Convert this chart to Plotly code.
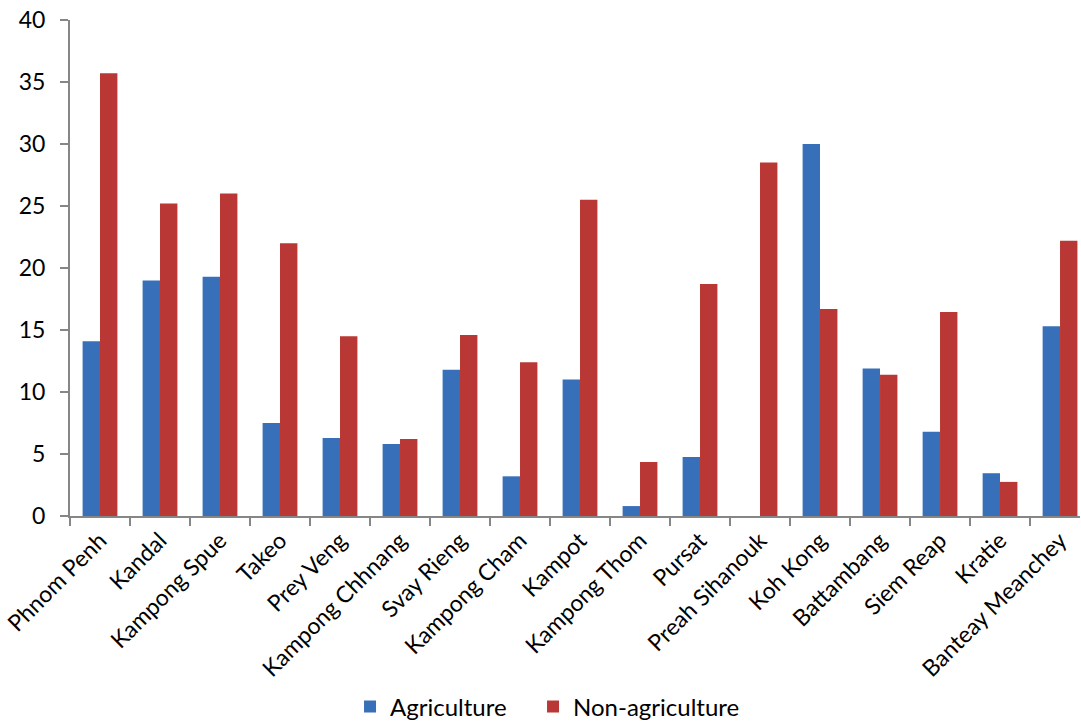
import plotly.graph_objects as go

provinces = [
    "Phnom Penh", "Kandal", "Kampong Spue", "Takeo", "Prey Veng",
    "Kampong Chhnang", "Svay Rieng", "Kampong Cham", "Kampot",
    "Kampong Thom", "Pursat", "Preah Sihanouk", "Koh Kong",
    "Battambang", "Siem Reap", "Kratie", "Banteay Meanchey",
]
agriculture = [14.1, 19.0, 19.3, 7.5, 6.3, 5.8, 11.8, 3.2, 11.0,
               0.8, 4.75, 0.0, 30.0, 11.9, 6.8, 3.45, 15.3]
non_agriculture = [35.7, 25.2, 26.0, 22.0, 14.5, 6.2, 14.6, 12.4, 25.5,
                   4.35, 18.7, 28.5, 16.7, 11.4, 16.45, 2.75, 22.2]
y_ticks = [0, 5, 10, 15, 20, 25, 30, 35, 40]

axis_grey = "#868686"
font_family = "Lato, 'Open Sans', sans-serif"

fig = go.Figure()
fig.add_trace(go.Bar(
    x=provinces, y=agriculture, name="Agriculture", legend="legend",
    marker=dict(color="#3770B8", line=dict(width=0)),
))
fig.add_trace(go.Bar(
    x=provinces, y=non_agriculture, name="Non-agriculture", legend="legend2",
    marker=dict(color="#B93835", line=dict(width=0)),
))

legend_style = dict(
    orientation="h", xref="container", yref="container",
    xanchor="left", y=0.021, yanchor="middle",
    font=dict(size=24), itemwidth=30,
)

fig.update_layout(
    width=1081, height=722,
    margin=dict(l=70, r=1, t=20, b=206, pad=0, autoexpand=False),
    paper_bgcolor="white", plot_bgcolor="white",
    barmode="group", bargap=0.42, bargroupgap=0,
    font=dict(family=font_family, size=20, color="#000000"),
    showlegend=True,
    legend=dict(x=0.3238, **legend_style),
    legend2=dict(x=0.4931, **legend_style),
)
fig.update_xaxes(
    range=[-0.5, 16.333], automargin=False,
    showline=True, linecolor=axis_grey, linewidth=2,
    ticks="outside", tickson="boundaries", ticklen=8, tickcolor=axis_grey,
    tickwidth=2, tickangle=-45, showgrid=False, zeroline=False,
    tickfont=dict(size=23), ticklabelstandoff=0,
)
fig.update_yaxes(
    range=[0, 40], tickvals=y_ticks, automargin=False,
    showline=True, linecolor=axis_grey, linewidth=2,
    ticks="outside", ticklen=8, tickcolor=axis_grey, tickwidth=2,
    showgrid=False, zeroline=False, tickfont=dict(size=23),
    ticklabelstandoff=10,
)

fig.write_html("out.html")
